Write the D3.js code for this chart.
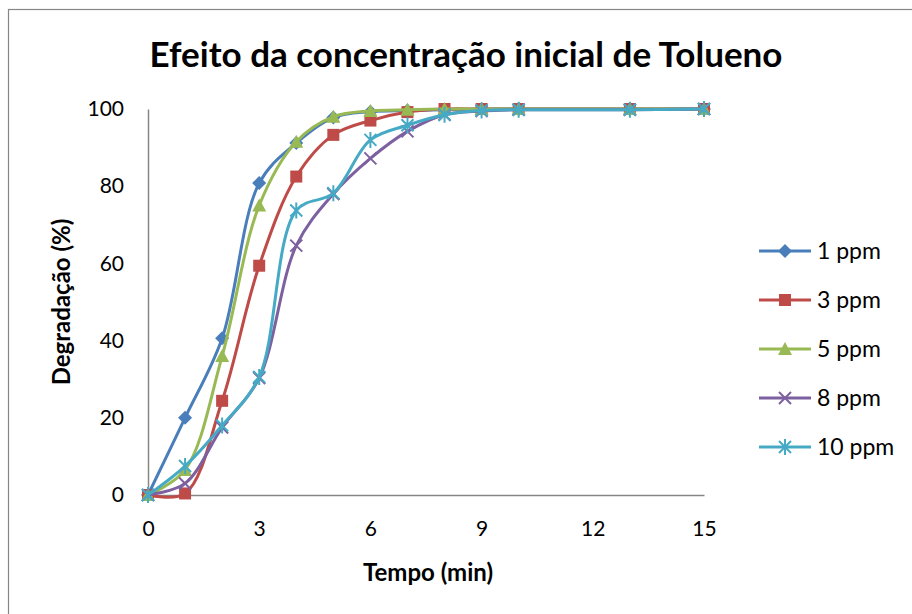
<!DOCTYPE html>
<html><head><meta charset="utf-8">
<script src="https://cdn.jsdelivr.net/npm/d3@7"></script>
<style>body{margin:0;background:#fff}svg{display:block}text{font-family:Lato,"Open Sans",sans-serif;fill:#000}</style>
</head><body>
<svg id="c" width="912" height="614"></svg>
<script>
const time = [0,1,2,3,4,5,6,7,8,9,10,13,15];
const s1ppm  = [0,20,40.6,80.8,91.2,97.8,99.3,99.6,99.8,100,100,100,100];
const s3ppm  = [0,0.4,24.4,59.4,82.5,93.3,97,99.2,100,100,100,100,100];
const s5ppm  = [0,6.5,36,75,91.5,98,99.5,99.8,100,100,100,100,100];
const s8ppm  = [0,3,17.5,30.3,64.6,78,87.2,94.2,98.5,99.5,99.8,99.8,100];
const s10ppm = [0,7.5,18,30.6,73.7,78.2,92,95.8,98.5,99.6,99.8,99.8,100];
const seriesNames = ["1 ppm","3 ppm","5 ppm","8 ppm","10 ppm"];
const xTicks = [0,3,6,9,12,15];
const yTicks = [0,20,40,60,80,100];
const colors = ["#4A7EBB","#BE4B48","#98B954","#7D60A0","#46AAC5"];
const markerTypes = ["diamond","square","triangle","x","star"];
const allSeries = [s1ppm,s3ppm,s5ppm,s8ppm,s10ppm];

const svg = d3.select("#c");
svg.append("rect").attr("x",8.5).attr("y",9.5).attr("width",920).attr("height",620)
  .attr("fill","none").attr("stroke","#868686").attr("stroke-width",1.2);

const x = d3.scaleLinear().domain([0,15]).range([148,704]);
const y = d3.scaleLinear().domain([0,100]).range([495,109]);

svg.append("text").attr("x",466).attr("y",67).attr("text-anchor","middle")
  .style("font-size","35px").style("font-weight","bold").text("Efeito da concentração inicial de Tolueno");

const xa = svg.append("g").attr("transform","translate(0,495)")
  .call(d3.axisBottom(x).tickValues(xTicks).tickSize(0).tickPadding(34).tickFormat(d3.format("d")));
const ya = svg.append("g").attr("transform","translate(148,0)")
  .call(d3.axisLeft(y).tickValues(yTicks).tickSize(0).tickPadding(24).tickFormat(d3.format("d")));
[xa,ya].forEach(a=>{a.select(".domain").attr("stroke","#868686").attr("stroke-width",1.5);
  a.selectAll("text").style("font-size","21px").style("font-family","Lato,sans-serif").attr("fill","#000");});
xa.selectAll("text").attr("dy","0.35em");

svg.append("text").attr("x",428).attr("y",573).attr("dy","0.35em").attr("text-anchor","middle")
  .style("font-size","24px").style("font-weight","bold").text("Tempo (min)");
svg.append("text").attr("transform","translate(62,302) rotate(-90)").attr("dy","0.35em").attr("text-anchor","middle")
  .style("font-size","24px").style("font-weight","bold").text("Degradação (%)");

function marker(g, type, color){
  if(type==="diamond") g.append("path").attr("d","M0,-7L7,0L0,7L-7,0Z").attr("fill",color);
  else if(type==="square") g.append("rect").attr("x",-6).attr("y",-6).attr("width",12).attr("height",12).attr("fill",color);
  else if(type==="triangle") g.append("path").attr("d","M0,-7L7,6L-7,6Z").attr("fill",color);
  else if(type==="x") g.append("path").attr("d","M-6,-6L6,6M-6,6L6,-6").attr("stroke",color).attr("stroke-width",2);
  else g.append("path").attr("d","M-6,-6L6,6M-6,6L6,-6M0,-8L0,8").attr("stroke",color).attr("stroke-width",2);
}

const line = d3.line().x((d,i)=>x(time[i])).y(d=>y(d)).curve(d3.curveCatmullRom.alpha(0.5));
allSeries.forEach((s,k)=>{
  svg.append("path").datum(s).attr("d",line).attr("fill","none").attr("stroke",colors[k]).attr("stroke-width",3);
  s.forEach((v,i)=>{ marker(svg.append("g").attr("transform",`translate(${x(time[i])},${y(v)})`), markerTypes[k], colors[k]); });
});

const lg = svg.append("g");
seriesNames.forEach((n,k)=>{
  const yy = 251 + k*49;
  lg.append("line").attr("x1",759).attr("x2",811).attr("y1",yy).attr("y2",yy).attr("stroke",colors[k]).attr("stroke-width",3);
  marker(lg.append("g").attr("transform",`translate(785,${yy})`), markerTypes[k], colors[k]);
  lg.append("text").attr("x",817).attr("y",yy).attr("dy","0.35em").style("font-size","23px").text(n);
});
</script>
</body></html>
